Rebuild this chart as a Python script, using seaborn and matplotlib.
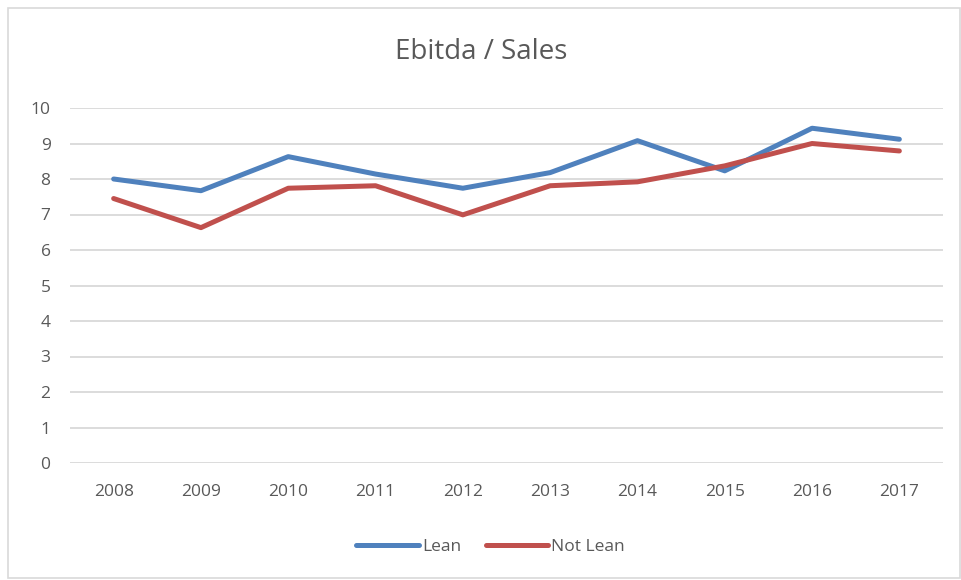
import matplotlib
matplotlib.use("Agg")
import matplotlib.pyplot as plt
import seaborn as sns
import pandas as pd
from matplotlib.patches import Rectangle

years = ["2008", "2009", "2010", "2011", "2012", "2013", "2014", "2015", "2016", "2017"]
lean = [8.0, 7.67, 8.63, 8.14, 7.74, 8.18, 9.08, 8.23, 9.43, 9.12]
not_lean = [7.45, 6.63, 7.74, 7.81, 6.99, 7.81, 7.92, 8.37, 9.0, 8.79]
series_names = ["Lean", "Not Lean"]
colors = ["#4F81BD", "#C0504D"]

df = pd.DataFrame({
    "Year": years * 2,
    "Value": lean + not_lean,
    "Series": [series_names[0]] * len(years) + [series_names[1]] * len(years),
})

sns.set_style("white")
plt.rcParams["font.family"] = ["Open Sans", "DejaVu Sans"]

fig = plt.figure(figsize=(9.62, 5.80), dpi=100)
fig.patches.append(Rectangle((8 / 962, 2 / 580), 952 / 962, 570 / 580,
                             transform=fig.transFigure, fill=False,
                             edgecolor="#D9D9D9", linewidth=1.2))
ax = fig.add_axes([70 / 962, 1 - 463 / 580, 873 / 962, 355 / 580])

sns.lineplot(data=df, x="Year", y="Value", hue="Series", palette=colors,
             linewidth=3.6, ax=ax, sort=False, legend=False)

ax.set_xlim(-0.5, len(years) - 0.5)
ax.set_ylim(0, 10)
ax.set_yticks(range(0, 11))
ax.yaxis.grid(True, color="#D9D9D9", linewidth=1.3)
ax.xaxis.grid(False)
ax.set_axisbelow(True)
for s in ax.spines.values():
    s.set_visible(False)
ax.tick_params(axis="both", length=0, labelsize=12.5, labelcolor="#595959")
ax.tick_params(axis="x", pad=15)
ax.tick_params(axis="y", pad=14)
ax.set_xlabel("")
ax.set_ylabel("")

fig.text(0.5, 1 - 52 / 580, "Ebitda / Sales", ha="center", va="center",
         fontsize=20, color="#595959")

handles = [plt.Line2D([], [], color=c, linewidth=3.6, solid_capstyle="round") for c in colors]
fig.legend(handles, series_names, loc="center", bbox_to_anchor=(0.51, 1 - 547 / 580),
           ncol=2, frameon=False, fontsize=12.5, labelcolor="#595959",
           handlelength=3.6, handletextpad=0.2, columnspacing=1.4)

fig.savefig("out.png", dpi=100)
